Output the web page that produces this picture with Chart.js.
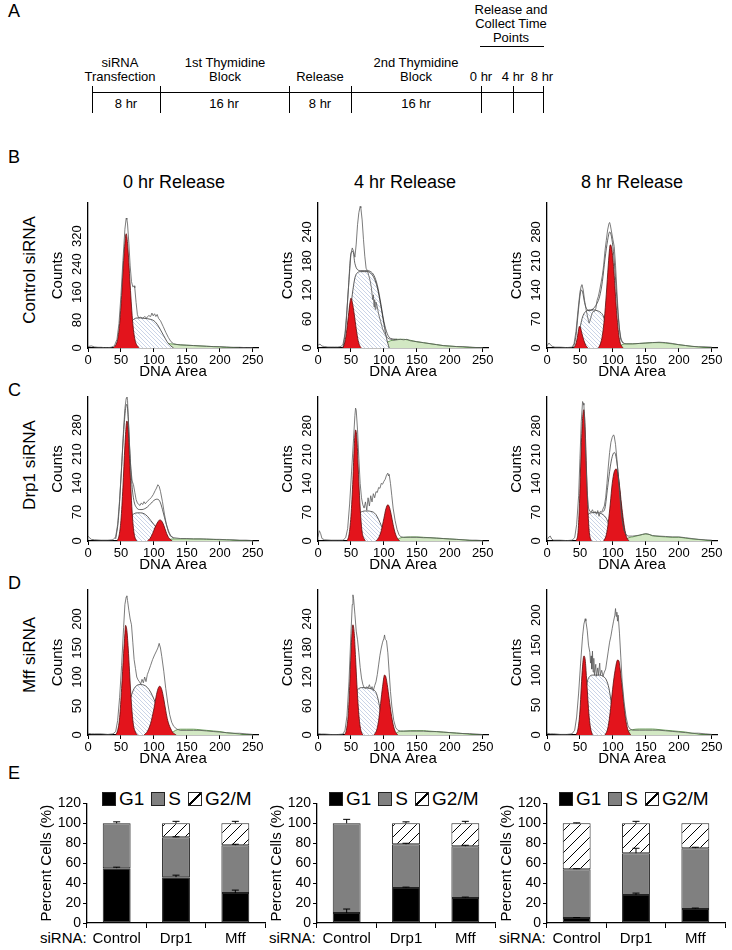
<!DOCTYPE html>
<html>
<head>
<meta charset="utf-8">
<script src="https://cdn.jsdelivr.net/npm/chart.js@4.4.1/dist/chart.umd.min.js"></script>
<style>
  body { margin: 0; width: 732px; height: 950px; position: relative; background: #fff; overflow: hidden;
         font-family: "Liberation Sans", Arial, sans-serif; color: #000; }
  .c { position: absolute; transform: translate(-50%, -50%); text-align: center; white-space: nowrap; }
  .t13 { font-size: 13px; line-height: 14px; }
  .letter { position: absolute; font-size: 18px; line-height: 20px; }
  .head { font-size: 18px; }
  .rowlbl { position: absolute; font-size: 17px; white-space: nowrap; transform: translate(-50%, -50%) rotate(-90deg); }
  .hl { position: absolute; height: 0; border-top: 1.5px solid #000; }
  .vl { position: absolute; width: 0; border-left: 1.5px solid #000; }
  .legend { position: absolute; display: flex; align-items: center; font-size: 19px; line-height: 20px; white-space: nowrap; }
  .legend .box { width: 14px; height: 14px; margin-right: 3px; border: 1px solid #222; box-sizing: border-box; }
  .legend .hat { background: linear-gradient(to bottom right, #fff 45%, #000 45%, #000 55%, #fff 55%); }
  .legend span.txt { margin-right: 7px; }
  .siRNA { position: absolute; font-size: 15px; line-height: 16px; }
</style>
</head>
<body>

<!-- panel A: timeline -->
<div class="letter" style="left:8px;top:1px">A</div>
<div class="c t13" style="left:511px;top:24px">Release and<br>Collect Time<br>Points</div>
<div class="hl" style="left:480px;top:46px;width:64px"></div>
<div class="c t13" style="left:120px;top:70px">siRNA<br>Transfection</div>
<div class="c t13" style="left:225px;top:70px">1st Thymidine<br>Block</div>
<div class="c t13" style="left:320px;top:77px">Release</div>
<div class="c t13" style="left:416px;top:70px">2nd Thymidine<br>Block</div>
<div class="c t13" style="left:481px;top:77px">0 hr</div>
<div class="c t13" style="left:513px;top:77px">4 hr</div>
<div class="c t13" style="left:542px;top:77px">8 hr</div>
<div class="hl" style="left:92px;top:92px;width:452px"></div>
<div class="vl" style="left:92px;top:86px;height:27px"></div>
<div class="vl" style="left:160px;top:86px;height:27px"></div>
<div class="vl" style="left:289px;top:86px;height:27px"></div>
<div class="vl" style="left:351px;top:86px;height:27px"></div>
<div class="vl" style="left:481px;top:86px;height:27px"></div>
<div class="vl" style="left:513px;top:86px;height:27px"></div>
<div class="vl" style="left:543px;top:86px;height:27px"></div>
<div class="c t13" style="left:126px;top:104px">8 hr</div>
<div class="c t13" style="left:224px;top:104px">16 hr</div>
<div class="c t13" style="left:320px;top:104px">8 hr</div>
<div class="c t13" style="left:416px;top:104px">16 hr</div>

<!-- panels B-D labels -->
<div class="letter" style="left:8px;top:147px">B</div>
<div class="c head" style="left:174px;top:182px">0 hr Release</div>
<div class="c head" style="left:405px;top:182px">4 hr Release</div>
<div class="c head" style="left:632px;top:182px">8 hr Release</div>
<div class="rowlbl" style="left:30px;top:270px">Control siRNA</div>
<div class="letter" style="left:8px;top:380px">C</div>
<div class="rowlbl" style="left:30px;top:465px">Drp1 siRNA</div>
<div class="letter" style="left:8px;top:573px">D</div>
<div class="rowlbl" style="left:30px;top:655px">Mff siRNA</div>

<!-- panel E labels -->
<div class="letter" style="left:8px;top:763px">E</div>
<div class="legend" style="left:102px;top:789px">
  <div class="box" style="background:#000"></div><span class="txt">G1</span>
  <div class="box" style="background:#808080"></div><span class="txt">S</span>
  <div class="box hat"></div><span>G2/M</span>
</div>
<div class="legend" style="left:329px;top:789px">
  <div class="box" style="background:#000"></div><span class="txt">G1</span>
  <div class="box" style="background:#808080"></div><span class="txt">S</span>
  <div class="box hat"></div><span>G2/M</span>
</div>
<div class="legend" style="left:559px;top:789px">
  <div class="box" style="background:#000"></div><span class="txt">G1</span>
  <div class="box" style="background:#808080"></div><span class="txt">S</span>
  <div class="box hat"></div><span>G2/M</span>
</div>
<div class="siRNA" style="left:40px;top:930px">siRNA:</div>
<div class="siRNA" style="left:269px;top:930px">siRNA:</div>
<div class="siRNA" style="left:499px;top:930px">siRNA:</div>

<script>
// ---- histogram data: [DNA area, counts] ----
const xTicks = [0, 50, 100, 150, 200, 250];

// Control siRNA, 0 hr
const ctl0YTicks = [0, 80, 160, 240, 320];
const ctl0Raw = [[0,4],[5,6],[10,3],[15,2],[20,2],[25,1],[30,1],[35,2],[40,6],[44,25],[47,70],[50,150],[53,250],[56,340],[58,372],[59,368],[60,355],[62,300],[64,235],[66,190],[68,175],[70,178],[71,172],[73,130],[75,95],[77,86],[80,88],[83,85],[86,90],[89,86],[92,93],[95,90],[97,100],[99,92],[101,98],[103,90],[105,96],[107,85],[110,78],[114,62],[118,45],[122,30],[126,18],[130,12],[135,10],[140,9],[150,8],[160,7],[170,6],[180,5],[190,4],[200,4],[210,3],[220,2],[230,2],[240,1],[250,1]];
const ctl0G1 = [[38,0],[42,8],[45,25],[48,70],[51,150],[54,250],[57,320],[58,327],[60,300],[62,245],[64,180],[66,120],[68,70],[70,38],[72,18],[75,6],[78,0]];
const ctl0S = [[45,0],[50,8],[55,25],[60,50],[65,72],[70,83],[75,86],[80,86],[85,85],[90,84],[95,82],[100,78],[105,68],[110,52],[115,35],[120,18],[125,7],[130,0]];
const ctl0G2 = [];
const ctl0Debris = [[100,0],[105,4],[110,9],[115,12],[120,13],[125,12],[130,11],[140,9],[150,8],[160,7],[170,6],[180,5],[190,4],[200,3],[210,2],[220,1],[230,0]];
const ctl0Fit = [];

// Control siRNA, 4 hr
const ctl4YTicks = [0, 60, 120, 180, 240];
const ctl4Raw = [[0,6],[3,8],[6,4],[10,3],[15,2],[20,2],[25,2],[30,2],[35,3],[38,8],[41,30],[44,80],[47,140],[50,195],[52,207],[54,200],[56,188],[58,215],[60,255],[62,280],[64,293],[65,290],[67,265],[69,225],[71,190],[73,165],[75,160],[77,150],[79,140],[81,125],[83,100],[84,110],[85,85],[86,100],[87,80],[88,95],[90,85],[92,70],[95,55],[98,40],[101,30],[104,24],[106,20],[110,18],[115,16],[120,17],[125,18],[130,17],[135,18],[140,15],[145,14],[150,13],[160,11],[170,9],[180,7],[190,5],[200,4],[210,3],[220,3],[230,2],[240,1],[250,1]];
const ctl4Fit = [[38,0],[42,40],[46,120],[50,195],[53,200],[56,175],[60,162],[65,160],[70,160],[75,160],[80,158],[85,150],[90,130],[95,95],[100,55],[105,30],[110,20],[120,18]];
const ctl4G1 = [[37,0],[40,8],[43,30],[46,65],[49,98],[50,103],[52,95],[55,70],[58,40],[61,15],[64,3],[66,0]];
const ctl4S = [[40,0],[44,20],[48,60],[52,110],[56,145],[60,156],[65,158],[70,158],[75,158],[80,155],[85,145],[90,125],[95,90],[100,50],[104,20],[108,0]];
const ctl4G2 = [];
const ctl4Debris = [[90,0],[95,4],[100,8],[105,12],[110,15],[115,17],[120,18],[125,18],[130,18],[135,17],[140,16],[150,13],[160,11],[170,9],[180,7],[190,5],[200,4],[210,3],[220,2],[235,1],[250,0]];

// Control siRNA, 8 hr
const ctl8YTicks = [0, 70, 140, 210, 280];
const ctl8Raw = [[0,5],[3,12],[5,8],[8,4],[12,2],[20,2],[30,1],[38,2],[41,10],[44,40],[47,90],[50,135],[52,150],[53,153],[55,140],[57,115],[59,95],[61,80],[63,65],[64,60],[66,70],[68,82],[70,88],[72,88],[74,95],[76,115],[78,125],[80,140],[82,157],[84,175],[86,200],[88,235],[90,260],[92,285],[94,300],[95,303],[96,298],[98,280],[100,262],[102,245],[104,200],[106,140],[108,85],[110,45],[112,20],[115,12],[120,10],[130,10],[140,11],[150,12],[160,13],[170,14],[180,13],[190,11],[200,8],[210,6],[220,4],[230,3],[240,3],[250,2]];
const ctl8Fit = [[40,0],[44,30],[47,80],[50,125],[52,140],[54,135],[57,110],[60,95],[64,90],[68,92],[72,98],[76,108],[80,125],[84,160],[88,215],[92,260],[95,280],[97,275],[100,245],[103,190],[106,120],[109,60],[112,25],[116,12]];
const ctl8G1 = [[40,0],[43,6],[46,25],[48,45],[49,52],[51,48],[53,35],[56,18],[59,6],[62,0]];
const ctl8S = [[45,0],[48,25],[51,55],[54,75],[58,87],[62,91],[66,92],[70,92],[74,91],[78,89],[82,85],[86,75],[89,55],[92,30],[95,10],[98,0]];
const ctl8G2 = [[78,0],[81,10],[84,30],[87,70],[90,130],[93,200],[95,240],[96,249],[98,242],[100,215],[102,175],[104,125],[106,80],[108,45],[110,20],[113,5],[116,0]];
const ctl8Debris = [[108,0],[112,6],[116,9],[120,10],[130,10],[140,11],[150,12],[160,13],[170,13],[180,12],[190,10],[200,8],[210,6],[220,4],[235,2],[250,0]];

// Drp1 siRNA, 0 hr
const drp0YTicks = [0, 70, 140, 210, 280];
const drp0Raw = [[0,12],[2,8],[5,4],[10,3],[20,2],[30,2],[38,3],[42,10],[45,40],[48,100],[51,180],[54,270],[56,320],[58,345],[59,350],[60,340],[61,300],[63,230],[65,175],[67,145],[69,136],[71,118],[73,100],[75,92],[77,88],[79,86],[81,92],[83,88],[85,95],[87,90],[90,96],[93,100],[96,105],[99,112],[102,122],[104,128],[106,136],[108,132],[110,120],[113,95],[116,65],[119,40],[122,22],[125,12],[130,8],[140,6],[150,6],[160,5],[170,5],[180,5],[190,4],[200,4],[210,3],[220,3],[230,2],[240,2],[250,1]];
const drp0Fit = [[42,5],[46,50],[50,150],[54,260],[57,320],[59,330],[61,300],[64,200],[67,130],[70,95],[74,80],[78,76],[82,76],[86,78],[90,82],[95,90],[100,98],[104,101],[107,100],[110,92],[114,70],[118,45],[122,25],[126,12],[130,7]];
const drp0G1 = [[44,0],[47,12],[50,50],[53,130],[56,230],[58,280],[59,290],[61,270],[63,200],[65,130],[67,70],[69,30],[71,10],[74,0]];
const drp0S = [[50,0],[55,15],[60,38],[65,58],[70,66],[75,68],[80,68],[85,66],[90,60],[95,50],[100,40],[105,30],[110,20],[115,12],[120,5],[125,0]];
const drp0G2 = [[90,0],[94,6],[98,18],[102,34],[106,46],[109,51],[112,48],[115,38],[118,24],[121,12],[124,5],[128,0]];
const drp0Debris = [[118,0],[122,3],[130,5],[140,5],[150,5],[160,5],[170,5],[180,4],[190,4],[200,3],[210,3],[220,2],[235,1],[250,0]];

// Drp1 siRNA, 4 hr
const drp4YTicks = [0, 70, 140, 210, 280];
const drp4Raw = [[0,10],[2,25],[4,18],[6,6],[10,3],[20,2],[30,2],[38,2],[42,8],[45,30],[48,90],[51,170],[54,250],[56,305],[57,323],[58,318],[60,270],[62,200],[64,140],[66,105],[68,88],[70,80],[72,95],[74,75],[76,105],[78,85],[80,110],[82,95],[84,115],[86,105],[88,120],[90,118],[92,130],[94,128],[96,140],[98,138],[100,145],[102,150],[104,160],[106,165],[107,158],[108,162],[110,140],[112,110],[114,80],[117,50],[120,28],[123,15],[126,10],[130,9],[140,9],[150,9],[160,8],[170,8],[180,7],[190,6],[200,5],[210,4],[220,3],[230,2],[240,2],[250,1]];
const drp4Fit = [];
const drp4G1 = [[44,0],[47,15],[50,60],[53,150],[55,230],[57,270],[59,250],[61,180],[63,110],[65,55],[67,22],[70,5],[72,0]];
const drp4S = [[52,0],[56,20],[60,50],[64,68],[68,72],[72,73],[76,73],[80,72],[84,70],[88,64],[92,52],[96,38],[100,24],[104,12],[108,4],[112,0]];
const drp4G2 = [[88,0],[92,8],[96,25],[100,55],[103,78],[106,88],[108,84],[111,65],[114,40],[117,20],[120,8],[124,0]];
const drp4Debris = [[118,0],[122,5],[126,8],[130,9],[140,10],[150,10],[160,9],[170,8],[180,7],[190,6],[200,5],[210,4],[220,3],[235,1],[250,0]];

// Drp1 siRNA, 8 hr
const drp8YTicks = [0, 70, 140, 210, 280];
const drp8Raw = [[0,3],[3,10],[5,12],[7,5],[10,2],[20,2],[30,1],[38,2],[42,8],[45,40],[48,110],[50,200],[52,290],[54,339],[55,335],[56,330],[57,300],[59,200],[61,120],[63,80],[65,72],[67,70],[69,76],[71,68],[73,72],[75,65],[77,74],[79,60],[81,72],[83,70],[85,78],[87,85],[89,105],[91,140],[93,180],[95,215],[97,240],[99,252],[101,258],[102,255],[104,235],[106,200],[108,160],[110,120],[112,80],[114,50],[117,25],[120,15],[123,12],[130,12],[140,14],[145,16],[150,18],[155,16],[160,13],[170,12],[180,11],[190,10],[200,10],[210,8],[220,6],[230,4],[240,3],[250,2]];
const drp8Fit = [[84,70],[88,80],[92,130],[96,180],[99,205],[102,215],[104,210],[107,180],[110,130],[113,75],[116,35],[120,15]];
const drp8G1 = [[44,0],[47,20],[49,80],[51,180],[53,270],[55,315],[56,319],[58,270],[60,170],[62,80],[64,25],[66,5],[68,0]];
const drp8S = [[52,0],[55,25],[58,50],[62,64],[66,68],[70,69],[75,69],[80,68],[85,64],[90,55],[94,40],[98,25],[102,12],[106,4],[110,0]];
const drp8G2 = [[86,0],[90,15],[93,45],[96,90],[99,140],[102,168],[105,175],[107,168],[110,135],[113,90],[116,50],[119,20],[122,5],[125,0]];
const drp8Debris = [[118,0],[122,6],[126,9],[130,10],[135,12],[140,14],[145,16],[150,17],[155,16],[160,13],[170,11],[180,10],[190,9],[200,9],[210,7],[220,5],[235,3],[250,0]];

// Mff siRNA, 0 hr
const mff0YTicks = [0, 50, 100, 150, 200];
const mff0Raw = [[0,3],[5,2],[10,2],[20,2],[30,1],[38,2],[42,6],[45,25],[48,65],[51,120],[54,185],[56,225],[58,238],[59,240],[60,232],[62,215],[64,200],[66,190],[68,160],[70,130],[72,115],[74,100],[76,95],[78,92],[80,88],[82,96],[84,90],[86,100],[88,92],[90,104],[92,110],[95,120],[98,130],[101,138],[104,145],[106,150],[108,158],[110,150],[112,135],[115,110],[118,80],[121,55],[124,35],[127,22],[130,15],[135,10],[140,8],[150,8],[160,8],[170,8],[180,7],[190,6],[200,5],[210,4],[220,3],[230,3],[240,2],[250,1]];
const mff0Fit = [];
const mff0G1 = [[42,0],[45,8],[48,30],[51,80],[54,140],[56,175],[57,189],[59,180],[61,150],[63,110],[65,70],[67,38],[69,17],[72,5],[75,0]];
const mff0S = [[50,0],[55,15],[60,40],[65,65],[70,80],[75,86],[80,87],[85,86],[90,82],[95,74],[100,62],[105,48],[110,34],[115,20],[120,8],[125,0]];
const mff0G2 = [[85,0],[90,6],[95,20],[100,45],[104,70],[107,82],[109,84],[112,78],[115,62],[118,42],[121,25],[125,12],[129,4],[134,0]];
const mff0Debris = [[125,0],[130,6],[135,9],[140,10],[150,10],[160,10],[170,9],[180,8],[190,7],[200,6],[210,4],[220,3],[235,1],[250,0]];

// Mff siRNA, 4 hr
const mff4YTicks = [0, 60, 120, 180, 240];
const mff4Raw = [[0,3],[5,2],[10,2],[20,1],[30,1],[38,2],[41,10],[44,40],[47,110],[50,210],[52,270],[53,290],[54,282],[56,250],[58,215],[60,197],[62,170],[64,140],[66,118],[68,105],[70,98],[72,96],[74,100],[76,97],[78,104],[80,95],[82,100],[84,92],[86,102],[88,110],[90,125],[92,145],[94,165],[96,180],[98,192],[100,200],[101,207],[102,198],[104,195],[106,170],[108,130],[110,90],[112,60],[115,30],[118,15],[121,10],[125,8],[130,8],[140,8],[150,8],[160,8],[170,7],[180,7],[190,6],[200,5],[210,4],[220,3],[230,3],[240,2],[250,1]];
const mff4Fit = [];
const mff4G1 = [[40,0],[43,10],[46,45],[48,100],[50,170],[52,220],[53,228],[55,210],[57,160],[59,105],[61,60],[63,28],[65,10],[68,0]];
const mff4S = [[48,0],[52,30],[55,65],[58,88],[62,96],[66,98],[70,98],[75,97],[80,96],[85,93],[88,88],[91,75],[94,55],[97,32],[100,12],[103,0]];
const mff4G2 = [[85,0],[89,10],[92,30],[95,65],[98,100],[101,124],[103,120],[105,105],[108,75],[111,45],[114,22],[117,8],[121,0]];
const mff4Debris = [[115,0],[120,5],[125,8],[130,8],[140,9],[150,9],[160,9],[170,8],[180,7],[190,6],[200,5],[210,4],[220,3],[235,1],[250,0]];

// Mff siRNA, 8 hr
const mff8YTicks = [0, 50, 100, 150, 200];
const mff8Raw = [[0,3],[5,2],[10,2],[20,1],[30,1],[38,2],[42,8],[45,30],[48,70],[51,120],[54,165],[56,185],[58,194],[59,190],[61,175],[63,150],[65,138],[66,120],[67,132],[68,110],[69,140],[70,105],[71,128],[72,100],[74,118],[75,98],[77,112],[78,100],[80,120],[81,100],[83,108],[85,98],[87,105],[89,110],[91,125],[93,140],[95,155],[97,165],[99,178],[101,190],[103,200],[104,211],[105,198],[106,205],[107,190],[108,200],[110,170],[112,130],[114,90],[117,55],[120,30],[123,15],[126,10],[130,8],[140,8],[150,8],[160,8],[170,8],[180,7],[190,6],[200,5],[210,4],[220,3],[230,3],[240,2],[250,1]];
const mff8Fit = [];
const mff8G1 = [[44,0],[47,10],[50,40],[52,80],[54,115],[56,132],[58,125],[60,95],[62,60],[64,30],[66,12],[69,0]];
const mff8S = [[52,0],[55,30],[58,65],[61,88],[65,98],[70,100],[75,100],[80,100],[85,98],[90,92],[94,78],[97,58],[100,35],[103,15],[106,0]];
const mff8G2 = [[88,0],[92,10],[95,30],[98,60],[101,90],[104,112],[107,125],[109,124],[111,110],[114,80],[117,48],[120,22],[123,8],[127,0]];
const mff8Debris = [[118,0],[122,5],[126,8],[130,9],[140,10],[150,10],[160,10],[170,9],[180,8],[190,7],[200,6],[210,5],[220,3],[235,1],[250,0]];

// ---- panel E: percent of cells per phase ----
const barLabels = ['Control', 'Drp1', 'Mff'];
const rel0G1 = [55, 46, 30];
const rel0S  = [45, 40, 48];
const rel0G2 = [0, 14, 22];
const rel0Err = [[1, 2, 3], [1.5, 0.5, 1], [0, 2, 2]];
const rel4G1 = [10, 35, 25];
const rel4S  = [90, 44, 52];
const rel4G2 = [0, 21, 23];
const rel4Err = [[4, 1, 1], [4, 1, 1], [0, 1.5, 2]];
const rel8G1 = [5, 28, 14];
const rel8S  = [49, 42, 61];
const rel8G2 = [46, 30, 25];
const rel8Err = [[0.5, 2, 1], [0.5, 5, 1], [0.5, 2, 0]];

// ---- drawing ----
Chart.defaults.font.family = '"Liberation Sans", Arial, sans-serif';
Chart.defaults.color = '#000';

function makeCanvas(left, top, w, h) {
  const c = document.createElement('canvas');
  c.width = w; c.height = h;
  c.style.cssText = `position:absolute;left:${left}px;top:${top}px;width:${w}px;height:${h}px`;
  document.body.appendChild(c);
  return c;
}

function hatch(size, color, lw, slash) {
  const c = document.createElement('canvas');
  c.width = c.height = size;
  const g = c.getContext('2d');
  g.fillStyle = '#fff';
  g.fillRect(0, 0, size, size);
  g.strokeStyle = color;
  g.lineWidth = lw;
  g.beginPath();
  if (slash) {
    g.moveTo(0, size); g.lineTo(size, 0);
    g.moveTo(-2, 2); g.lineTo(2, -2);
    g.moveTo(size - 2, size + 2); g.lineTo(size + 2, size - 2);
  } else {
    g.moveTo(0, 0); g.lineTo(size, size);
    g.moveTo(size - 2, -2); g.lineTo(size + 2, 2);
    g.moveTo(-2, size - 2); g.lineTo(2, size + 2);
  }
  g.stroke();
  return g.createPattern(c, 'repeat');
}

const sHatch = hatch(4, '#b3c1dc', 0.7, false);
const g2Hatch = hatch(11, '#000', 1, true);

// rotated y tick labels, as in the original figure
const rotTicks = {
  id: 'rotTicks',
  afterDraw(chart, args, opts) {
    const y = chart.scales.y, ctx = chart.ctx;
    ctx.save();
    ctx.font = '13px "Liberation Sans", Arial';
    ctx.fillStyle = '#000';
    ctx.textAlign = 'center';
    ctx.textBaseline = 'middle';
    opts.values.forEach(v => {
      ctx.save();
      ctx.translate(y.right - 11, y.getPixelForValue(v));
      ctx.rotate(-Math.PI / 2);
      ctx.fillText(String(v), 0, 0);
      ctx.restore();
    });
    ctx.restore();
  }
};

const COLS = [88, 318, 547];
const ROWS = [[203, 348], [397, 541], [590, 735]];

const hists = [
  { col: 0, row: 0, raw: ctl0Raw, fit: ctl0Fit, g1: ctl0G1, g2: ctl0G2, s: ctl0S, deb: ctl0Debris, yMax: 415, yTicks: ctl0YTicks },
  { col: 1, row: 0, raw: ctl4Raw, fit: ctl4Fit, g1: ctl4G1, g2: ctl4G2, s: ctl4S, deb: ctl4Debris, yMax: 300, yTicks: ctl4YTicks },
  { col: 2, row: 0, raw: ctl8Raw, fit: ctl8Fit, g1: ctl8G1, g2: ctl8G2, s: ctl8S, deb: ctl8Debris, yMax: 350, yTicks: ctl8YTicks },
  { col: 0, row: 1, raw: drp0Raw, fit: drp0Fit, g1: drp0G1, g2: drp0G2, s: drp0S, deb: drp0Debris, yMax: 348, yTicks: drp0YTicks },
  { col: 1, row: 1, raw: drp4Raw, fit: drp4Fit, g1: drp4G1, g2: drp4G2, s: drp4S, deb: drp4Debris, yMax: 350, yTicks: drp4YTicks },
  { col: 2, row: 1, raw: drp8Raw, fit: drp8Fit, g1: drp8G1, g2: drp8G2, s: drp8S, deb: drp8Debris, yMax: 350, yTicks: drp8YTicks },
  { col: 0, row: 2, raw: mff0Raw, fit: mff0Fit, g1: mff0G1, g2: mff0G2, s: mff0S, deb: mff0Debris, yMax: 250, yTicks: mff0YTicks },
  { col: 1, row: 2, raw: mff4Raw, fit: mff4Fit, g1: mff4G1, g2: mff4G2, s: mff4S, deb: mff4Debris, yMax: 300, yTicks: mff4YTicks },
  { col: 2, row: 2, raw: mff8Raw, fit: mff8Fit, g1: mff8G1, g2: mff8G2, s: mff8S, deb: mff8Debris, yMax: 242, yTicks: mff8YTicks },
];

function histogram(h) {
  const [top, bottom] = ROWS[h.row];
  const axisX = COLS[h.col];
  const w = 44 + 170 + 14, ht = 6 + (bottom - top) + 35;
  const cv = makeCanvas(axisX - 44, top - 6, w, ht);

  const line = { pointRadius: 0, cubicInterpolationMode: 'monotone' };
  const red = { ...line, fill: 'origin', backgroundColor: '#e3141c', borderColor: '#5c0b0b', borderWidth: 0.8 };
  const datasets = [
    { data: h.raw, pointRadius: 0, tension: 0, borderColor: '#5a5a5a', borderWidth: 0.8, fill: false },
    { ...line, data: h.fit, borderColor: '#222', borderWidth: 0.7, fill: false },
    { ...red, data: h.g1 },
    { ...red, data: h.g2 },
    { ...line, data: h.s, fill: 'origin', backgroundColor: sHatch, borderColor: '#333', borderWidth: 0.8 },
    { ...line, data: h.deb, fill: 'origin', backgroundColor: '#d2e8c3', borderColor: '#4c8a3a', borderWidth: 0.8 },
  ];

  new Chart(cv, {
    type: 'line',
    data: { datasets },
    options: {
      responsive: false,
      animation: false,
      events: [],
      layout: { padding: { top: 6, right: 14, left: 0, bottom: 0 } },
      plugins: { legend: { display: false }, tooltip: { enabled: false }, rotTicks: { values: h.yTicks } },
      scales: {
        x: {
          type: 'linear', min: 0, max: 258,
          afterBuildTicks: s => { s.ticks = xTicks.map(v => ({ value: v })); },
          afterFit: s => { s.height = 35; },
          ticks: { font: { size: 13 }, padding: 1, maxRotation: 0 },
          grid: { display: true, drawOnChartArea: false, tickLength: 4, color: '#000' },
          border: { display: true, color: '#000', width: 1.3 },
          title: { display: true, text: 'DNA Area', font: { size: 15 }, padding: { top: 0, bottom: 2 } },
        },
        y: {
          type: 'linear', min: 0, max: h.yMax,
          afterFit: s => { s.width = 44; },
          ticks: { display: false },
          grid: { display: false },
          border: { display: true, color: '#000', width: 1.3 },
          title: { display: true, text: 'Counts', font: { size: 15 }, padding: { top: 5, bottom: 0 } },
        }
      }
    },
    plugins: [rotTicks]
  });
}

hists.forEach(histogram);

// error bars drawn from the top of each stacked segment
const errBars = {
  id: 'errBars',
  afterDatasetsDraw(chart, args, opts) {
    const y = chart.scales.y, ctx = chart.ctx;
    const tops = [0, 0, 0];
    ctx.save();
    ctx.strokeStyle = '#000';
    ctx.lineWidth = 1;
    opts.errs.forEach((errs, i) => {
      const meta = chart.getDatasetMeta(i);
      chart.data.datasets[i].data.forEach((v, j) => {
        tops[j] += v;
        if (!errs[j]) return;
        const x = meta.data[j].x;
        const y0 = y.getPixelForValue(tops[j]);
        const y1 = y.getPixelForValue(tops[j] + errs[j]);
        ctx.beginPath();
        ctx.moveTo(x, y0); ctx.lineTo(x, y1);
        ctx.moveTo(x - 3.5, y1); ctx.lineTo(x + 3.5, y1);
        ctx.stroke();
      });
    });
    ctx.restore();
  }
};

function phaseBars(axisX, g1, s, g2, errs) {
  const top = 803, bottom = 923;
  const cv = makeCanvas(axisX - 56, top - 10, 56 + 178 + 4, 10 + (bottom - top) + 26);
  const seg = { borderColor: '#222', borderWidth: 1, borderSkipped: false };
  new Chart(cv, {
    type: 'bar',
    data: {
      labels: barLabels,
      datasets: [
        { ...seg, label: 'G1', data: g1, backgroundColor: '#000' },
        { ...seg, label: 'S', data: s, backgroundColor: '#808080' },
        { ...seg, label: 'G2/M', data: g2, backgroundColor: g2Hatch },
      ]
    },
    options: {
      responsive: false,
      animation: false,
      events: [],
      layout: { padding: { top: 10, right: 4, left: 0, bottom: 0 } },
      datasets: { bar: { categoryPercentage: 1, barPercentage: 0.47 } },
      plugins: { legend: { display: false }, tooltip: { enabled: false }, errBars: { errs } },
      scales: {
        x: {
          stacked: true,
          afterFit: sc => { sc.height = 26; },
          ticks: { font: { size: 15 }, padding: 2 },
          grid: { display: true, drawOnChartArea: false, tickLength: 5, color: '#000', offset: true },
          border: { display: true, color: '#000', width: 1.3 },
        },
        y: {
          stacked: true, min: 0, max: 120,
          afterFit: sc => { sc.width = 56; },
          ticks: { stepSize: 20, font: { size: 14 }, padding: 2 },
          grid: { display: true, drawOnChartArea: false, tickLength: 4, color: '#000' },
          border: { display: true, color: '#000', width: 1.3 },
          title: { display: true, text: 'Percent Cells (%)', font: { size: 15 }, padding: { top: 7, bottom: 0 } },
        }
      }
    },
    plugins: [errBars]
  });
}

phaseBars(87, rel0G1, rel0S, rel0G2, rel0Err);
phaseBars(317, rel4G1, rel4S, rel4G2, rel4Err);
phaseBars(547, rel8G1, rel8S, rel8G2, rel8Err);
</script>
</body>
</html>
